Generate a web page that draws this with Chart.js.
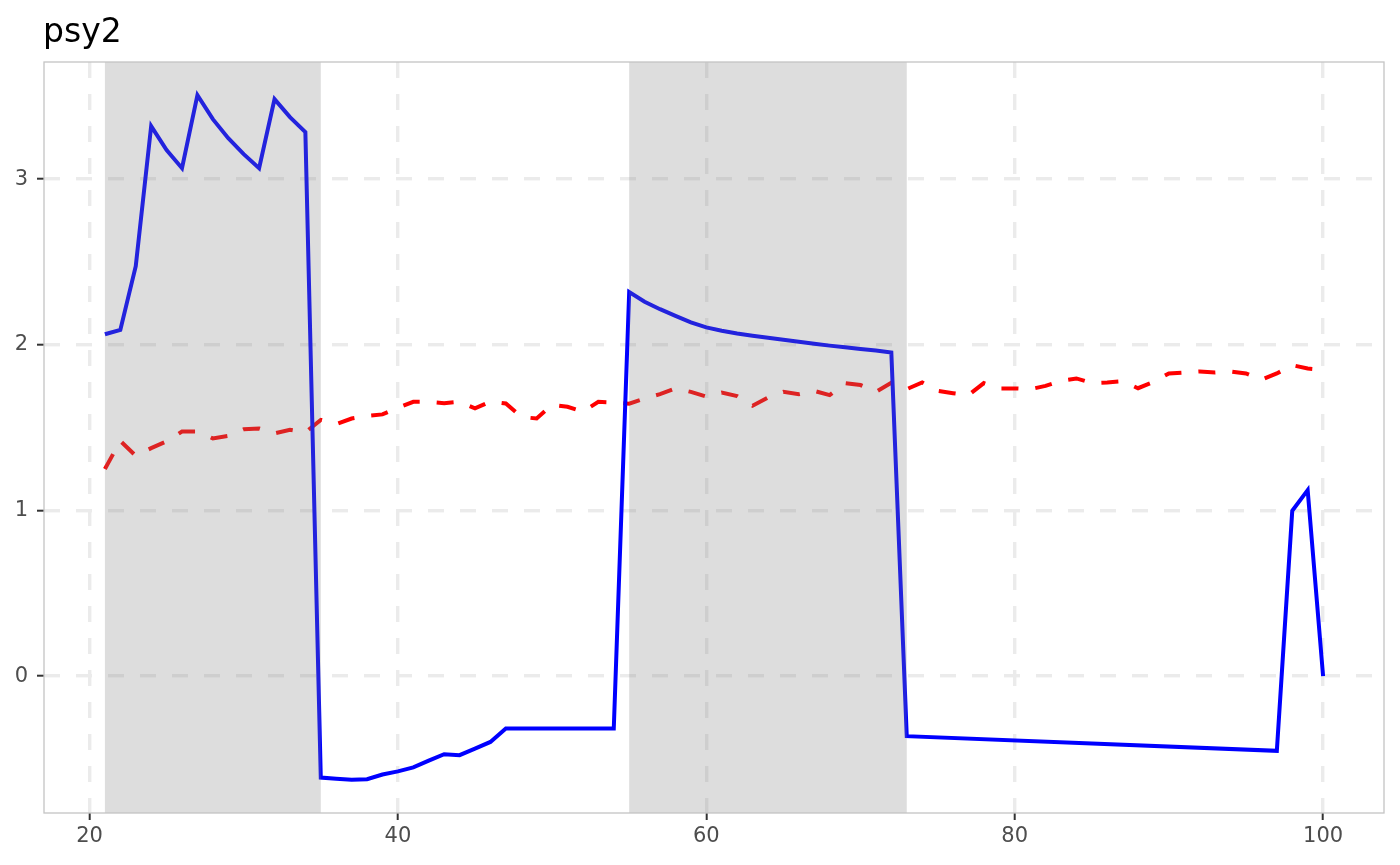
<!DOCTYPE html>
<html>
<head>
<meta charset="utf-8">
<script src="https://cdn.jsdelivr.net/npm/chart.js@4.4.1/dist/chart.umd.min.js"></script>
<style>
  body { margin: 0; background: #ffffff; }
  #grafico { display: block; }
</style>
</head>
<body>
<canvas id="grafico" width="1400" height="865"></canvas>
<script>
// datos
const titulo = "psy2";
const periodos = [21,22,23,24,25,26,27,28,29,30,31,32,33,34,35,36,37,38,39,40,
                  41,42,43,44,45,46,47,48,49,50,51,52,53,54,55,56,57,58,59,60,
                  61,62,63,64,65,66,67,68,69,70,71,72,73,74,75,76,77,78,79,80,
                  81,82,83,84,85,86,87,88,89,90,91,92,93,94,95,96,97,98,99,100];
const serieAzul = [2.064,2.09,2.475,3.32,3.175,3.066,3.507,3.362,3.247,3.151,
                   3.066,3.483,3.374,3.284,-0.612,-0.619,-0.626,-0.622,-0.594,-0.575,
                   -0.551,-0.51,-0.471,-0.477,-0.437,-0.397,-0.316,null,null,null,
                   null,null,null,-0.316,2.318,2.26,2.215,2.175,2.135,2.105,
                   2.085,2.068,2.055,2.042,2.03,2.018,2.006,1.995,1.985,1.975,
                   1.965,1.954,-0.362,null,null,null,null,null,null,null,
                   null,null,null,null,null,null,null,null,null,null,
                   null,null,null,null,null,null,-0.451,0.998,1.123,0];
const serieRoja = [1.25,1.42,1.33,1.376,1.417,1.477,1.477,1.435,1.45,1.49,
                   1.495,1.465,1.487,1.471,1.547,1.521,1.555,1.571,1.58,1.62,
                   1.656,1.656,1.648,1.656,1.616,1.658,1.646,1.565,1.555,1.638,
                   1.626,1.596,1.656,1.652,1.645,1.676,1.702,1.737,1.716,1.688,
                   1.712,1.69,1.632,1.682,1.716,1.702,1.722,1.696,1.769,1.757,
                   1.716,1.771,1.732,1.773,1.722,1.708,1.696,1.769,1.737,1.737,
                   1.732,1.752,1.782,1.797,1.769,1.773,1.78,1.738,1.776,1.827,
                   1.833,1.839,1.833,1.839,1.827,1.789,1.827,1.877,1.857,1.849];
const sombraInicio = [21, 55];
const sombraFin = [35, 73];
const ticksX = [20, 40, 60, 80, 100];
const ticksY = [0, 1, 2, 3];

function puntos(valores) {
    return periodos.map((p, i) => ({x: p, y: valores[i]}));
}

// rectangulos grises encima de las lineas
const sombras = {
    id: "sombras",
    afterDatasetsDraw(chart) {
        const ctx = chart.ctx;
        const area = chart.chartArea;
        const sx = chart.scales.x;
        ctx.save();
        ctx.fillStyle = "rgba(128,128,128,0.27)";
        for (let i = 0; i < sombraInicio.length; i++) {
            const x1 = sx.getPixelForValue(sombraInicio[i]);
            const x2 = sx.getPixelForValue(sombraFin[i]);
            ctx.fillRect(x1, area.top, x2 - x1, area.bottom - area.top);
        }
        ctx.restore();
    }
};

const marco = {
    id: "marco",
    afterDraw(chart) {
        const ctx = chart.ctx;
        const a = chart.chartArea;
        ctx.save();
        ctx.strokeStyle = "#c4c4c4";
        ctx.lineWidth = 1.3;
        ctx.strokeRect(a.left, a.top, a.right - a.left, a.bottom - a.top);
        ctx.fillStyle = "#000000";
        ctx.font = "33px 'DejaVu Sans'";
        ctx.textBaseline = "alphabetic";
        ctx.fillText(titulo, 43, 42);
        ctx.restore();
    }
};

const fuenteEje = {family: "'DejaVu Sans'", size: 21};

new Chart(document.getElementById("grafico"), {
    type: "line",
    data: {
        datasets: [{
            data: puntos(serieAzul),
            borderColor: "#0000ff",
            borderWidth: 4,
            pointRadius: 0,
            spanGaps: true,
            tension: 0
        }, {
            data: puntos(serieRoja),
            borderColor: "#ff0000",
            borderWidth: 4,
            borderDash: [17, 17],
            pointRadius: 0,
            tension: 0
        }]
    },
    options: {
        responsive: false,
        animation: false,
        devicePixelRatio: 1,
        layout: {padding: {top: 62, right: 16, left: 0, bottom: 0}},
        plugins: {
            legend: {display: false},
            tooltip: {enabled: false},
            title: {display: false}
        },
        scales: {
            x: {
                type: "linear",
                min: 17.05,
                max: 103.95,
                afterBuildTicks: s => { s.ticks = ticksX.map(v => ({value: v})); },
                afterFit: s => { s.height = 52; },
                grid: {
                    color: "#ebebeb",
                    lineWidth: 3.4,
                    tickColor: "#333333",
                    tickWidth: 2,
                    tickLength: 7,
                    tickBorderDash: []
                },
                border: {display: false, dash: [16, 16]},
                ticks: {color: "#4d4d4d", font: fuenteEje, padding: 4, maxRotation: 0}
            },
            y: {
                type: "linear",
                min: -0.826,
                max: 3.707,
                afterBuildTicks: s => { s.ticks = ticksY.map(v => ({value: v})); },
                afterFit: s => { s.width = 44; },
                grid: {
                    color: "#ebebeb",
                    lineWidth: 3.4,
                    tickColor: "#333333",
                    tickWidth: 2,
                    tickLength: 7,
                    tickBorderDash: []
                },
                border: {display: false, dash: [16, 16]},
                ticks: {color: "#4d4d4d", font: fuenteEje, padding: 9}
            }
        }
    },
    plugins: [sombras, marco]
});
</script>
</body>
</html>
